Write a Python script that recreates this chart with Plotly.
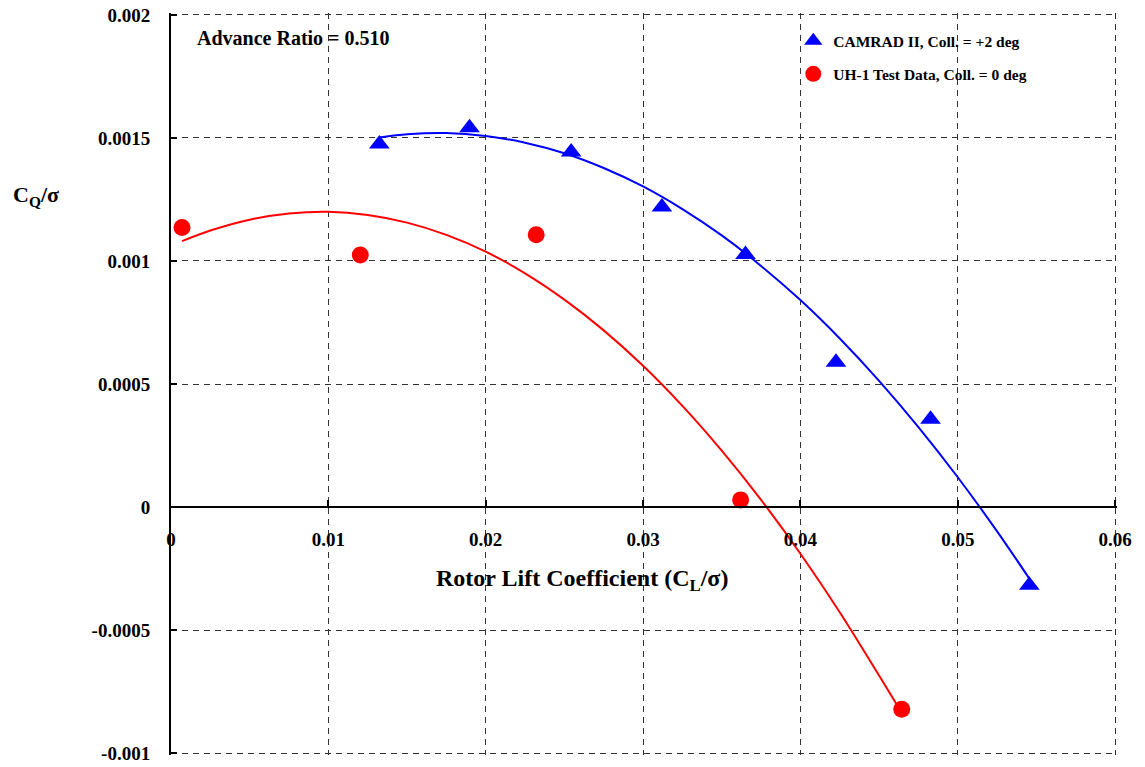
import plotly.graph_objects as go

# ---- data ----
camrad_cl = [0.01324, 0.01897, 0.02543, 0.03120, 0.03651, 0.04226, 0.04827, 0.05455]
camrad_cq = [0.001476, 0.001542, 0.001443, 0.001219, 0.001026, 0.000588, 0.000357, -0.000318]

uh1_cl = [0.00070, 0.01203, 0.02321, 0.03620, 0.04644]
uh1_cq = [0.001136, 0.001024, 0.001107, 0.000029, -0.000822]

# trend lines
camrad_fit_cl = [0.01324, 0.015, 0.0175, 0.02, 0.0225, 0.025, 0.0275, 0.03, 0.0325, 0.035,
                 0.0375, 0.04, 0.0425, 0.045, 0.0475, 0.05, 0.0525, 0.05455]
camrad_fit_cq = [0.001502, 0.001515, 0.00152, 0.001508, 0.001481, 0.001438, 0.001378, 0.001303,
                 0.001211, 0.001104, 0.00098, 0.000841, 0.000685, 0.000513, 0.000325, 0.000121,
                 -0.000099, -0.000291]

uh1_fit_cl = [0.0007, 0.0025, 0.005, 0.0075, 0.01, 0.0125, 0.015, 0.0175, 0.02, 0.0225, 0.025,
              0.0275, 0.03, 0.0325, 0.035, 0.0375, 0.04, 0.0425, 0.045, 0.0462]
uh1_fit_cq = [0.001081, 0.001124, 0.001168, 0.001193, 0.0012, 0.001187, 0.001156, 0.001106,
              0.001038, 0.00095, 0.000843, 0.000718, 0.000574, 0.000411, 0.000229, 0.000029,
              -0.00019, -0.000428, -0.000685, -0.000811]

x_tickvals = [0, 0.01, 0.02, 0.03, 0.04, 0.05, 0.06]
x_ticktext = ["0", "0.01", "0.02", "0.03", "0.04", "0.05", "0.06"]
y_tickvals = [-0.001, -0.0005, 0, 0.0005, 0.001, 0.0015, 0.002]
y_ticktext = ["-0.001", "-0.0005", "0", "0.0005", "0.001", "0.0015", "0.002"]

name_camrad = "CAMRAD II, Coll. = +2 deg"
name_uh1 = "UH-1 Test Data, Coll. = 0 deg"

FONT = "Liberation Serif, Times New Roman, serif"
BLUE = "#0000FF"
RED = "#FF0000"

# axis ranges padded by ~2px so the edge gridlines (0.06, 0.002, -0.001) are drawn
X_RANGE = [0, 0.06012]
Y_RANGE = [-0.001008, 0.002008]

fig = go.Figure()

fig.add_trace(go.Scatter(x=camrad_fit_cl, y=camrad_fit_cq, mode="lines",
                         line=dict(color=BLUE, width=2, shape="spline", smoothing=0.8),
                         showlegend=False, hoverinfo="skip"))
fig.add_trace(go.Scatter(x=uh1_fit_cl, y=uh1_fit_cq, mode="lines",
                         line=dict(color=RED, width=2, shape="spline", smoothing=0.8),
                         showlegend=False, hoverinfo="skip"))

fig.add_trace(go.Scatter(x=camrad_cl, y=camrad_cq, mode="markers", name=name_camrad,
                         legendgroup="a",
                         marker=dict(symbol="triangle-up", size=18, color=BLUE)))
fig.add_trace(go.Scatter(x=uh1_cl, y=uh1_cq, mode="markers", name=name_uh1,
                         legendgroup="b",
                         marker=dict(symbol="circle", size=17, color=RED)))

grid = dict(showgrid=True, gridcolor="#333333", gridwidth=1, griddash="6px,5px")

fig.update_xaxes(range=X_RANGE, tickvals=x_tickvals, ticktext=x_ticktext,
                 anchor="free", position=(0 - Y_RANGE[0]) / (Y_RANGE[1] - Y_RANGE[0]),
                 showline=True, linecolor="black", linewidth=2,
                 ticks="inside", ticklen=6, tickwidth=2, tickcolor="black",
                 zeroline=False, ticklabelstandoff=15, automargin=False,
                 tickfont=dict(family=FONT, size=19, color="black", weight="bold"), **grid)
fig.update_yaxes(range=Y_RANGE, tickvals=y_tickvals, ticktext=y_ticktext,
                 showline=True, linecolor="black", linewidth=2,
                 ticks="inside", ticklen=6, tickwidth=2, tickcolor="black",
                 zeroline=False, ticklabelstandoff=15, automargin=False,
                 tickfont=dict(family=FONT, size=19, color="black", weight="bold"), **grid)

fig.add_annotation(text="Advance Ratio = 0.510", xref="paper", yref="paper",
                   x=0.0254, y=0.966, xanchor="left", yanchor="middle", showarrow=False,
                   font=dict(family=FONT, size=20, color="black", weight="bold"))
fig.add_annotation(text="C<sub>Q</sub>/σ", xref="paper", yref="paper",
                   x=-0.143, y=0.753, xanchor="center", yanchor="middle", showarrow=False,
                   font=dict(family=FONT, size=22, color="black", weight="bold"))
fig.add_annotation(text="Rotor Lift Coefficient (C<sub>L</sub>/σ)", xref="paper", yref="paper",
                   x=0.434, y=0.2353, xanchor="center", yanchor="middle", showarrow=False,
                   font=dict(family=FONT, size=24, color="black", weight="bold"))

fig.update_layout(
    width=1145, height=767,
    margin=dict(l=171, r=28, t=13, b=12, autoexpand=False),
    paper_bgcolor="white", plot_bgcolor="white",
    font=dict(family=FONT, color="black"),
    legend=dict(x=0.6578, y=0.985, xanchor="left", yanchor="top",
                bgcolor="rgba(0,0,0,0)", borderwidth=0, itemwidth=30,
                tracegroupgap=10,
                font=dict(family=FONT, size=15.5, color="black", weight="bold")),
)

fig.write_html("out.html", config={"displayModeBar": False},
               post_script="document.body.style.margin='0px';document.body.style.padding='0px';")
